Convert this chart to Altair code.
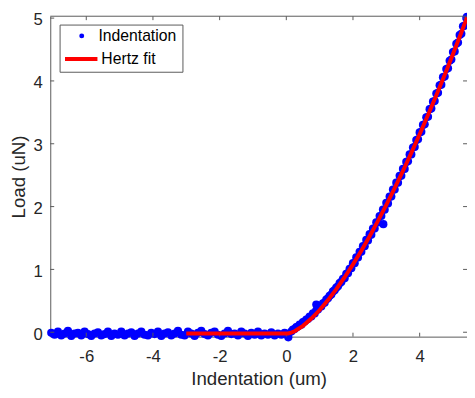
import altair as alt
import pandas as pd

# ---- data ----
flat_x = [-7.05, -6.95, -6.85, -6.75, -6.65, -6.55, -6.45, -6.35, -6.25, -6.15,
          -6.05, -5.95, -5.85, -5.75, -5.65, -5.55, -5.45, -5.35, -5.25, -5.15,
          -5.05, -4.95, -4.85, -4.75, -4.65, -4.55, -4.45, -4.35, -4.25, -4.15,
          -4.05, -3.95, -3.85, -3.75, -3.65, -3.55, -3.45, -3.35, -3.25, -3.15,
          -3.05, -2.95, -2.85, -2.75, -2.65, -2.55, -2.45, -2.35, -2.25, -2.15,
          -2.05, -1.95, -1.85, -1.75, -1.65, -1.55, -1.45, -1.35, -1.25, -1.15,
          -1.05, -0.95, -0.85, -0.75, -0.65, -0.55, -0.45, -0.35, -0.25, -0.15,
          -0.05, 0.05]
flat_y = [-0.01, -0.04, 0.01, -0.05, -0.02, 0.02, -0.06, -0.02, -0.01, -0.05,
          0.01, -0.03, -0.06, -0.02, 0.00, -0.05, -0.03, 0.01, -0.06, -0.02,
          -0.04, 0.01, -0.05, -0.02, 0.00, -0.06, -0.02, 0.01, -0.04, -0.05,
          -0.01, -0.03, 0.01, -0.06, -0.02, 0.00, -0.05, -0.02, 0.02, -0.04,
          -0.05, 0.01, -0.02, -0.06, -0.01, 0.02, -0.03, -0.05, -0.01, 0.01,
          -0.04, -0.06, -0.02, 0.02, -0.03, -0.02, -0.05, 0.01, -0.02, -0.06,
          -0.01, -0.04, 0.01, -0.05, -0.02, -0.04, 0.00, -0.05, -0.02, -0.04,
          -0.01, -0.05]
rise_x = [0.15, 0.20, 0.25, 0.30, 0.35, 0.40, 0.45, 0.50, 0.55, 0.60,
          0.65, 0.70, 0.75, 0.80, 0.85, 0.90, 0.95, 1.00, 1.05, 1.10,
          1.15, 1.20, 1.25, 1.30, 1.35, 1.40, 1.45, 1.50, 1.55, 1.60,
          1.65, 1.70, 1.75, 1.80, 1.85, 1.90, 1.95, 2.00, 2.05, 2.10,
          2.15, 2.20, 2.25, 2.30, 2.35, 2.40, 2.45, 2.50, 2.55, 2.60,
          2.65, 2.70, 2.75, 2.80, 2.85, 2.90, 2.95, 3.00, 3.05, 3.10,
          3.15, 3.20, 3.25, 3.30, 3.35, 3.40, 3.45, 3.50, 3.55, 3.60,
          3.65, 3.70, 3.75, 3.80, 3.85, 3.90, 3.95, 4.00, 4.05, 4.10,
          4.15, 4.20, 4.25, 4.30, 4.35, 4.40, 4.45, 4.50, 4.55, 4.60,
          4.65, 4.70, 4.75, 4.80, 4.85, 4.90, 4.95, 5.00, 5.05, 5.10,
          5.15, 5.20, 5.25, 5.30, 5.35, 5.40, 5.42]
rise_y = [0.01, 0.04, 0.05, 0.08, 0.09, 0.12, 0.12, 0.16, 0.17, 0.20,
          0.21, 0.25, 0.25, 0.30, 0.30, 0.35, 0.36, 0.40, 0.41, 0.46,
          0.47, 0.52, 0.54, 0.58, 0.60, 0.65, 0.67, 0.71, 0.73, 0.78,
          0.80, 0.85, 0.86, 0.93, 0.94, 1.01, 1.02, 1.10, 1.10, 1.19,
          1.19, 1.28, 1.28, 1.37, 1.37, 1.47, 1.46, 1.56, 1.55, 1.65,
          1.65, 1.75, 1.75, 1.85, 1.85, 1.95, 1.95, 2.06, 2.05, 2.16,
          2.16, 2.27, 2.27, 2.38, 2.38, 2.49, 2.49, 2.60, 2.60, 2.71,
          2.72, 2.83, 2.83, 2.94, 2.95, 3.06, 3.07, 3.18, 3.19, 3.30,
          3.31, 3.42, 3.43, 3.55, 3.56, 3.67, 3.68, 3.80, 3.81, 3.93,
          3.94, 4.06, 4.07, 4.19, 4.20, 4.32, 4.34, 4.46, 4.47, 4.59,
          4.61, 4.73, 4.75, 4.87, 4.88, 5.00, 5.02]
extra_x = [0.06, 0.90, 2.91]
extra_y = [-0.08, 0.44, 1.72]

fit_x = [-3.0, 0.05, 0.15, 0.25, 0.5, 0.75, 1.0, 1.25, 1.5, 1.75, 2.0, 2.25, 2.5,
         2.75, 3.0, 3.25, 3.5, 3.75, 4.0, 4.25, 4.5, 4.75, 5.0, 5.25, 5.42]
fit_y = [-0.02, -0.02, -0.007, 0.016, 0.102, 0.217, 0.354, 0.511, 0.685, 0.876,
         1.080, 1.298, 1.529, 1.773, 2.027, 2.292, 2.569, 2.855, 3.152, 3.457,
         3.772, 4.096, 4.429, 4.771, 5.01]

series_names = ["Indentation", "Hertz fit"]
series_colors = ["#0000ff", "#ff0000"]
x_ticks = [-6, -4, -2, 0, 2, 4]
y_ticks = [0, 1, 2, 3, 4, 5]
x_domain = [-7.08, 5.42]
y_domain = [-0.07, 5.03]

# ---- layout / style ----
W, H = 424, 326
FONT = "Liberation Sans"
AX = "#262626"
LINE = "#595959"

pts = pd.DataFrame({"x": flat_x + rise_x + extra_x,
                    "y": flat_y + rise_y + extra_y})
pts["series"] = series_names[0]
fit = pd.DataFrame({"x": fit_x, "y": fit_y})
fit["series"] = series_names[1]
tx = pd.DataFrame({"v": x_ticks})
ty = pd.DataFrame({"v": y_ticks})
one = pd.DataFrame({"v": [0]})

xs = alt.Scale(domain=x_domain, nice=False, zero=False)
ys = alt.Scale(domain=y_domain, nice=False, zero=False)

x_axis = alt.Axis(values=x_ticks, title="Indentation (um)", grid=False, ticks=False,
                  tickSize=0, labelPadding=12, labelFont=FONT, labelFontSize=17,
                  labelColor=AX, titleFont=FONT, titleFontSize=19,
                  titleFontWeight="normal", titleColor=AX, titlePadding=6,
                  domainColor=LINE, domainWidth=1, labelFlush=False,
                  labelExpr="'' + datum.value")
y_axis = alt.Axis(values=y_ticks, title="Load (uN)", grid=False, ticks=False,
                  tickSize=0, labelPadding=8, labelFont=FONT, labelFontSize=17,
                  labelColor=AX, titleFont=FONT, titleFontSize=19,
                  titleFontWeight="normal", titleColor=AX, titlePadding=5,
                  domainColor=LINE, domainWidth=1, labelOffset=2,
                  labelExpr="'' + datum.value")

leg_common = dict(title=None, orient="none", padding=0, labelFont=FONT,
                  labelFontSize=16, labelColor="#000000")
fill_legend = alt.Legend(legendX=24, legendY=12, symbolType="circle",
                         symbolSize=25, labelOffset=9, **leg_common)
stroke_legend = alt.Legend(legendX=13, legendY=25, symbolType="stroke",
                           symbolSize=1089, symbolStrokeWidth=4, labelOffset=2,
                           **leg_common)

X = lambda f: alt.X(f, scale=xs, axis=x_axis)
Y = lambda f: alt.Y(f, scale=ys, axis=y_axis)

points = alt.Chart(pts).mark_circle(size=70, opacity=1, clip=False).encode(
    x=X("x:Q"), y=Y("y:Q"),
    fill=alt.Fill("series:N", scale=alt.Scale(domain=series_names[:1], range=series_colors[:1]),
                  legend=fill_legend),
)
fit_line = alt.Chart(fit).mark_line(strokeWidth=4, clip=True).encode(
    x=X("x:Q"), y=Y("y:Q"),
    stroke=alt.Stroke("series:N", scale=alt.Scale(domain=series_names[1:], range=series_colors[1:]),
                      legend=stroke_legend),
)
bottom_ticks = alt.Chart(tx).mark_rule(color=LINE, strokeWidth=1).encode(
    x=X("v:Q"), y=alt.value(H), y2=alt.value(H - 4))
top_ticks = alt.Chart(tx).mark_rule(color=LINE, strokeWidth=1).encode(
    x=X("v:Q"), y=alt.value(0), y2=alt.value(4))
left_ticks = alt.Chart(ty).mark_rule(color=LINE, strokeWidth=1).encode(
    y=Y("v:Q"), x=alt.value(0), x2=alt.value(4))
right_ticks = alt.Chart(ty).mark_rule(color=LINE, strokeWidth=1).encode(
    y=Y("v:Q"), x=alt.value(W), x2=alt.value(W - 4))
top_border = alt.Chart(one).mark_rule(color=LINE, strokeWidth=1).encode(
    x=alt.value(0), x2=alt.value(W), y=alt.value(0))
legend_frame = alt.Chart(one).mark_rect(fill="white", stroke=LINE, strokeWidth=1).encode(
    x=alt.value(10), x2=alt.value(135), y=alt.value(9), y2=alt.value(57))

chart = alt.layer(
    points, bottom_ticks, top_ticks, left_ticks, right_ticks, top_border,
    fit_line, legend_frame
).properties(
    width=W, height=H,
    autosize=alt.AutoSizeParams(type="none"),
    padding={"left": 43, "top": 5, "right": 0, "bottom": 55},
    background="white",
).configure_view(stroke=None)

chart.save("out.html", embed_options={"renderer": "svg", "actions": False})
